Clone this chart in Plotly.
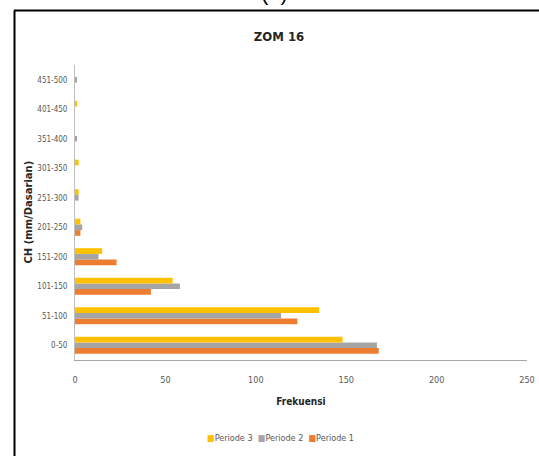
import plotly.graph_objects as go

# Rainfall classes (mm per dasarian) and frequency counts for ZOM 16
categories = ["0-50", "51-100", "101-150", "151-200", "201-250",
              "251-300", "301-350", "351-400", "401-450", "451-500"]
periode_1 = [168, 123, 42, 23, 3, 0, 0, 0, 0, 0]
periode_2 = [167, 114, 58, 13, 4, 2, 0, 1, 0, 1]
periode_3 = [148, 135, 54, 15, 3, 2, 2, 0, 1, 0]
x_ticks = [0, 50, 100, 150, 200, 250]

series = [
    ("Periode 1", periode_1, "#ED7D31"),
    ("Periode 2", periode_2, "#A5A5A5"),
    ("Periode 3", periode_3, "#FFC000"),
]

FONT = "DejaVu Sans Condensed, Roboto, sans-serif"
TICK_COLOR = "#595959"
W, H = 539, 456
L, R, T, B = 75, 12, 65, 96
PW, PH = W - L - R, H - T - B


def px(x):
    return (x - L) / PW


def py(y):
    return (H - B - y) / PH


fig = go.Figure()
for name, vals, color in series:
    fig.add_trace(go.Bar(
        y=categories, x=vals, name=name, orientation="h",
        marker=dict(color=color, line=dict(width=0)), showlegend=False,
    ))

fig.update_layout(
    width=W, height=H,
    margin=dict(l=L, r=R, t=T, b=B, autoexpand=False),
    paper_bgcolor="white", plot_bgcolor="white",
    barmode="group", bargap=0.42, bargroupgap=0.0,
    font=dict(family=FONT, size=9, color=TICK_COLOR),
    title=dict(text="<b>ZOM 16</b>", x=279 / W, xref="container",
               xanchor="center", y=1 - 36 / H, yref="container",
               yanchor="middle",
               font=dict(family=FONT, size=13, color="#262626")),
    showlegend=False,
    xaxis=dict(range=[0, 250], tickvals=x_ticks, showgrid=False,
               zeroline=False, showline=True, linecolor="#A6A6A6",
               linewidth=1, ticks="", automargin=False,
               tickfont=dict(family=FONT, size=9, color=TICK_COLOR),
               ticklabelstandoff=11,
               title=dict(text="<b>Frekuensi</b>", standoff=14,
                          font=dict(family=FONT, size=10, color="#262626"))),
    yaxis=dict(showgrid=False, zeroline=False, showline=True,
               linecolor="#BFBFBF", linewidth=1, ticks="", automargin=False,
               tickfont=dict(family=FONT, size=8, color=TICK_COLOR),
               ticklabelstandoff=5),
)

# Vertical axis title
fig.add_annotation(text="<b>CH (mm/Dasarian)</b>", xref="paper",
                   yref="paper", x=px(28), y=0.5, xanchor="center",
                   yanchor="middle", textangle=-90, showarrow=False,
                   font=dict(family="DejaVu Sans, sans-serif", size=10,
                             color="#262626"))

# Legend row: colour swatch followed by series name, Periode 3 first
legend_text = "  ".join(
    f"<span style='color:{color}'>■</span>{name}"
    for name, _, color in reversed(series)
)
fig.add_annotation(text=legend_text, xref="paper", yref="paper",
                   x=px(280), y=py(438), xanchor="center", yanchor="middle",
                   showarrow=False,
                   font=dict(family=FONT, size=9, color=TICK_COLOR))

# Panel label partly above the frame, and the frame's top/left edges
fig.add_annotation(text="(b)", xref="paper", yref="paper",
                   x=px(274), y=py(7), xanchor="center", yanchor="bottom",
                   showarrow=False,
                   font=dict(family="Liberation Sans, sans-serif", size=22,
                             color="#000000"))
fig.add_shape(type="line", xref="paper", yref="paper",
              x0=px(14), x1=px(545), y0=py(10.5), y1=py(10.5),
              line=dict(color="#000000", width=2))
fig.add_shape(type="line", xref="paper", yref="paper",
              x0=px(14.5), x1=px(14.5), y0=py(10.5), y1=py(470),
              line=dict(color="#000000", width=2))

fig.write_html("out.html")
